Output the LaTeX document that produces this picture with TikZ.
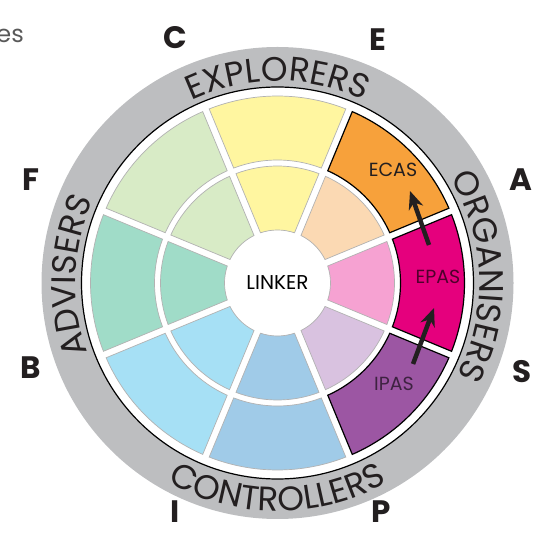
\documentclass[tikz,border=0pt]{standalone}
\usepackage{fontspec}
\setmainfont{Poppins}
\usetikzlibrary{arrows.meta,decorations.text}
\definecolor{RingGrey}{RGB}{189,190,192}
\definecolor{SegEdge}{RGB}{178,178,178}
\definecolor{InkDark}{RGB}{35,31,32}
\definecolor{PaleYellow}{RGB}{255,246,160}
\definecolor{PaleGreen}{RGB}{216,235,198}
\definecolor{Mint}{RGB}{160,220,200}
\definecolor{Sky}{RGB}{166,224,245}
\definecolor{SoftBlue}{RGB}{160,203,232}
\definecolor{Lilac}{RGB}{217,194,224}
\definecolor{Plum}{RGB}{156,86,163}
\definecolor{Blush}{RGB}{246,162,210}
\definecolor{Magenta}{RGB}{229,0,125}
\definecolor{Peach}{RGB}{251,217,179}
\definecolor{Tangerine}{RGB}{247,161,59}
\newcommand{\ringfont}{\fontsize{34}{34}\selectfont}
\newcommand{\wedgeseg}[4]{%
  \pgfmathsetmacro{\angA}{#2-22.5+asin(3.5/#3)}%
  \pgfmathsetmacro{\angB}{#2-22.5+asin(3.5/#4)}%
  \pgfmathsetmacro{\angC}{#2+22.5-asin(3.5/#3)}%
  \pgfmathsetmacro{\angD}{#2+22.5-asin(3.5/#4)}%
  \draw[#1, shift={(O)}] (\angA:#3) -- (\angB:#4) arc[start angle=\angB, end angle=\angD, radius=#4] -- (\angC:#3) arc[start angle=\angC, end angle=\angA, radius=#3] -- cycle;}

\begin{document}
\begin{tikzpicture}[x=1pt, y=1pt, >=Stealth, font=\fontsize{20}{20}\selectfont]
    \tikzstyle{pale} = [draw=SegEdge, line width=0.7pt]
    \tikzstyle{hot} = [draw=black, line width=1.2pt]
    \tikzstyle{pole} = [font=\fontsize{31}{31}\selectfont\bfseries, text=InkDark]
    \tikzstyle{tag} = [font=\fontsize{19}{19}\selectfont]
    \tikzstyle{arrow} = [line width=4.5pt, -{Stealth[length=18pt, width=15pt]}, color=InkDark]
    \tikzstyle{ring} = [decorate, decoration={text along path, text align=center, text color=InkDark}]

    \useasboundingbox (0,0) rectangle (541,557);
    \coordinate (O) at (277.5,274);

    \fill[RingGrey] (O) circle[radius=236];
    \draw[fill=white, line width=1.2pt] (O) circle[radius=196];

    \foreach \ang/\col in {90/PaleYellow, 135/PaleGreen, 180/Mint, 225/Sky, 270/SoftBlue, 315/Lilac, 0/Blush, 45/Peach}
      \wedgeseg{pale, fill=\col}{\ang}{53}{117};
    \foreach \ang/\col in {90/PaleYellow, 135/PaleGreen, 180/Mint, 225/Sky, 270/SoftBlue}
      \wedgeseg{pale, fill=\col}{\ang}{123}{187};
    \foreach \ang/\col in {315/Plum, 0/Magenta, 45/Tangerine}
      \wedgeseg{hot, fill=\col}{\ang}{123}{187};

    \begin{scope}[shift={(O)}]
      \path[ring, decoration={text={|\ringfont|EXPLORERS}}] (150:202) arc[start angle=150, end angle=30, radius=202];
      \path[ring, decoration={text={|\ringfont|ORGANISERS}}] (62:202) arc[start angle=62, end angle=-58, radius=202];
      \path[ring, decoration={text={|\ringfont|ADVISERS}}] (238:202) arc[start angle=238, end angle=118, radius=202];
      \path[ring, decoration={text={|\ringfont|CONTROLLERS}}] (205:228) arc[start angle=205, end angle=335, radius=228];
    \end{scope}

    \node (linker) at (O) {LINKER};
    \node [tag, text=InkDark] (ecas) at (393,387) {ECAS};
    \node [tag, text=Magenta!35!black] (epas) at (438,280) {EPAS};
    \node [tag, text=Plum!40!black] (ipas) at (394,173) {IPAS};

    \coordinate (epasTail) at (429,312);
    \coordinate (ecasTip) at (410,366);
    \coordinate (ipasTail) at (413,193);
    \coordinate (epasTip) at (434,249);
    \draw [arrow] (epasTail) -- (ecasTip);
    \draw [arrow] (ipasTail) -- (epasTip);

    \node [pole] (poleC) at (175,519) {C};
    \node [pole] (poleE) at (378,517) {E};
    \node [pole] (poleF) at (31,377) {F};
    \node [pole] (poleA) at (521,377) {A};
    \node [pole] (poleB) at (31,189) {B};
    \node [pole] (poleS) at (522,185) {S};
    \node [pole] (poleI) at (175,45) {I};
    \node [pole] (poleP) at (381,45) {P};

    \node [anchor=base east, font=\fontsize{24}{24}\selectfont, text=black!65, inner sep=0pt] (cutword) at (24,514) {es};
  \end{tikzpicture}
\end{document}
